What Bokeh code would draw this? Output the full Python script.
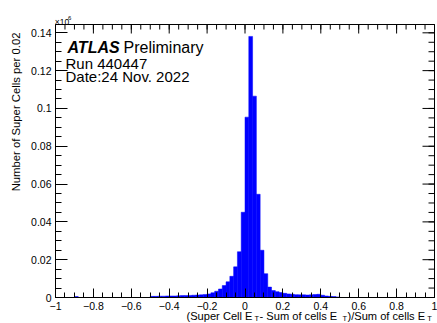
import numpy as np
from bokeh.plotting import figure
from bokeh.models import Range1d, LinearAxis, FixedTicker, Label
from bokeh.embed import file_html
from bokeh.resources import INLINE

# ---------------- data ----------------
bin_width = 0.02
bin_low = [-0.90,
           -0.50, -0.48, -0.46, -0.44, -0.42, -0.40, -0.38, -0.36, -0.34, -0.32,
           -0.30, -0.28, -0.26, -0.24, -0.22, -0.20, -0.18, -0.16, -0.14, -0.12,
           -0.10, -0.08, -0.06, -0.04, -0.02, 0.00, 0.02, 0.04, 0.06, 0.08,
           0.10, 0.12, 0.14, 0.16, 0.18, 0.20, 0.22, 0.24, 0.26, 0.28,
           0.30, 0.32, 0.34, 0.36, 0.38, 0.40, 0.42, 0.44, 0.46, 0.48]
counts = [0.0005,
          0.0006, 0.0006, 0.0007, 0.0007, 0.0008, 0.0008, 0.0008, 0.0009, 0.0010, 0.0010,
          0.0011, 0.0012, 0.0013, 0.0014, 0.0016, 0.0019, 0.0025, 0.0033, 0.0045, 0.0063,
          0.0083, 0.0112, 0.0162, 0.0242, 0.0451, 0.0954, 0.1381, 0.1065, 0.0546, 0.0250,
          0.0126, 0.0055, 0.0037, 0.0031, 0.0026, 0.0022, 0.0019, 0.0017, 0.0015, 0.0014,
          0.0014, 0.0013, 0.0014, 0.0016, 0.0017, 0.0012, 0.0008, 0.0006, 0.0005, 0.0003]

x_ticks = [-1, -0.8, -0.6, -0.4, -0.2, 0, 0.2, 0.4, 0.6, 0.8, 1]
x_tick_labels = ["\u22121", "\u22120.8", "\u22120.6", "\u22120.4", "\u22120.2", "0",
                 "0.2", "0.4", "0.6", "0.8", "1"]
y_ticks = [0, 0.02, 0.04, 0.06, 0.08, 0.1, 0.12, 0.14]
y_tick_labels = ["0", "0.02", "0.04", "0.06", "0.08", "0.1", "0.12", "0.14"]

x_title_parts = ["(Super Cell E", " - Sum of cells E", ")/Sum of cells E"]
x_title_sub = "T"
y_title = "Number of Super Cells per 0.02"
exponent_base = "\u00d710"
exponent_power = "6"
atlas_text = "ATLAS"
prelim_text = "Preliminary"
run_text = "Run 440447"
date_text = "Date:24 Nov. 2022"

# ---------------- layout (pixel positions of the drawn frame) ----------------
W, H = 437, 323
FL, FR, FT, FB = 55, 434, 24, 297
XMIN, XMAX, YMAX = -1.0, 1.0, 0.1444
FONT = "Liberation Sans"

xpp = (XMAX - XMIN) / (FR - FL)      # data units per pixel
ypp = YMAX / (FB - FT)


def dx(px):
    return XMIN + (px - FL) * xpp


def dy(py):
    return (FB - py) * ypp


# the Bokeh frame covers the whole canvas; the axes are pinned at x=-1 / y=0
p = figure(width=W, height=H, output_backend="svg", toolbar_location=None,
           x_range=Range1d(dx(0), dx(W)), y_range=Range1d(dy(H), dy(0)),
           min_border=0, min_border_left=0, min_border_right=0,
           min_border_top=0, min_border_bottom=0,
           x_axis_type=None, y_axis_type=None)
p.title.visible = False
p.background_fill_color = "white"
p.border_fill_color = "white"
p.outline_line_color = None
p.xgrid.visible = False
p.ygrid.visible = False

lefts = np.array(bin_low)
p.quad(left=lefts, right=lefts + bin_width, bottom=0, top=counts,
       fill_color="#0000ff", line_color="#0000ff", line_width=0.5)

x_minor = list(np.round(np.arange(-1, 1.0001, 0.05), 3))
y_minor = list(np.round(np.arange(0, 0.1441, 0.005), 4))


def style_axis(ax, major_in, minor_in):
    ax.axis_line_color = None
    ax.major_tick_in = major_in
    ax.major_tick_out = 0
    ax.minor_tick_in = minor_in
    ax.minor_tick_out = 0
    ax.major_tick_line_color = "black"
    ax.minor_tick_line_color = "black"
    ax.major_label_text_font = FONT
    ax.major_label_text_font_size = "10.5px"
    ax.major_label_text_color = "black"


xb = LinearAxis(ticker=FixedTicker(ticks=x_ticks, minor_ticks=x_minor),
                fixed_location=0)
xb.major_label_overrides = dict(zip(x_ticks, x_tick_labels))
style_axis(xb, 9, 5)
xb.major_label_standoff = 4
p.add_layout(xb, "below")

yl = LinearAxis(ticker=FixedTicker(ticks=y_ticks, minor_ticks=y_minor),
                fixed_location=-1)
yl.major_label_overrides = dict(zip(y_ticks, y_tick_labels))
style_axis(yl, 12, 6)
yl.major_label_standoff = 4
p.add_layout(yl, "left")

# frame box
p.quad(left=XMIN, right=XMAX, bottom=0, top=YMAX, fill_color=None,
       line_color="black", line_width=1)

# mirrored ticks on the top and right edges of the frame
top_major = np.array(x_ticks, dtype=float)
top_minor = np.array(x_minor, dtype=float)
p.segment(x0=top_major, x1=top_major, y0=YMAX, y1=YMAX - 9 * ypp,
          line_color="black", line_width=1)
p.segment(x0=top_minor, x1=top_minor, y0=YMAX, y1=YMAX - 5 * ypp,
          line_color="black", line_width=1)
right_major = np.array(y_ticks, dtype=float)
right_minor = np.array(y_minor, dtype=float)
p.segment(x0=XMAX, x1=XMAX - 12 * xpp, y0=right_major, y1=right_major,
          line_color="black", line_width=1)
p.segment(x0=XMAX, x1=XMAX - 6 * xpp, y0=right_minor, y1=right_minor,
          line_color="black", line_width=1)


def add_label(text, px, py, size, align="left", style="normal", angle=0.0):
    p.add_layout(Label(x=dx(px), y=dy(py), text=text, text_font=FONT,
                       text_font_size=size, text_font_style=style,
                       text_align=align, text_baseline="alphabetic",
                       text_color="black", angle=angle))


# ATLAS block
add_label(atlas_text, 67, 46.5, "16px", style="bold italic")
add_label(prelim_text, 123, 46.5, "16px")
add_label(run_text, 65, 62.5, "15px")
add_label(date_text, 65, 75.5, "15px")

# exponent above the frame
add_label(exponent_base, 54.3, 21, "8.5px")
add_label(exponent_power, 67.5, 17, "6px")

# y title, rotated, right-aligned near the top of the axis
add_label(y_title, 15, 32, "11.3px", align="right", angle=np.pi / 2)

# x title with subscripts, right part of the bottom margin
TS = 11.1
SS = 7.5
em_parts = [5.946, 7.280, 7.002]
em_T = 0.611
xpos = 186.0
for part, em in zip(x_title_parts, em_parts):
    add_label(part, xpos, 315.0, f"{TS}px")
    xpos += em * TS + 2
    add_label(x_title_sub, xpos, 318.0, f"{SS}px")
    xpos += em_T * SS + 0.5

open("out.html", "w").write(file_html(p, INLINE))
